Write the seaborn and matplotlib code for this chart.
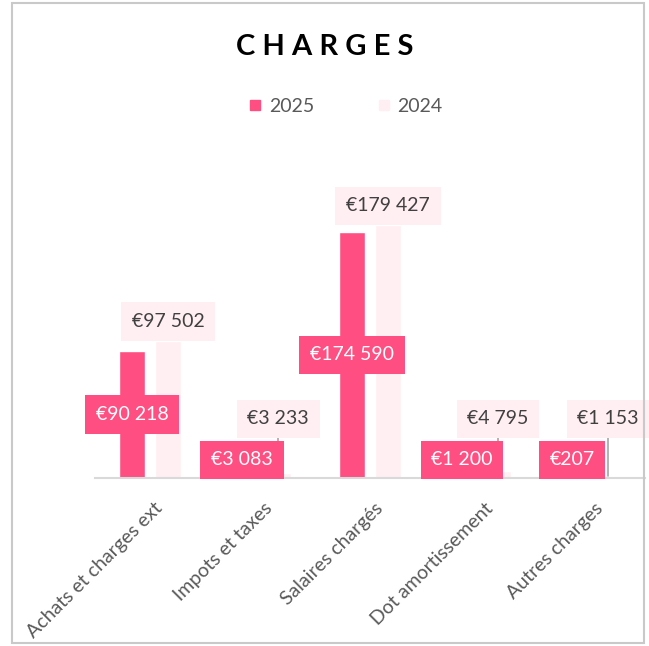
import matplotlib.pyplot as plt
import pandas as pd
import seaborn as sns
from matplotlib.lines import Line2D
from matplotlib.patches import Rectangle
from matplotlib.transforms import ScaledTranslation

# Chart data
CATEGORIES = ['Achats et charges ext', 'Impots et taxes', 'Salaires chargés',
              'Dot amortissement', 'Autres charges']
YEARS = ['2025', '2024']
VALUES_2025 = [90218, 3083, 174590, 1200, 207]
VALUES_2024 = [97502, 3233, 179427, 4795, 1153]

# Style parameters
COLORS = {'2025': '#FF4F82', '2024': '#FFEEF2'}
LABEL_TEXT = {'2025': 'white', '2024': '#404040'}
TICK_GREY = '#595959'
Y_MAX = 200000
FLOOR_2025 = 12800   # minimum centre for labels inside the bars
FLOOR_2024 = 28400   # minimum base for labels above the bars
LABEL_SIZE = 14
BOX_PAD = 0.55


def euro(v: int) -> str:
    """Formats a value like the Excel data labels (€90 218)."""
    return '€' + f'{v:,}'.replace(',', ' ')


def main() -> None:
    sns.set_style('white')
    plt.rcParams['font.family'] = ['Lato', 'DejaVu Sans']

    df = pd.DataFrame({
        'categorie': CATEGORIES * 2,
        'annee': [YEARS[0]] * len(CATEGORIES) + [YEARS[1]] * len(CATEGORIES),
        'montant': VALUES_2025 + VALUES_2024,
    })

    fig = plt.figure(figsize=(6.49, 6.46), dpi=100)
    ax = fig.add_axes([95 / 649, 1 - 478 / 646, 550 / 649, 282 / 646])
    sns.barplot(data=df, x='categorie', y='montant', hue='annee', hue_order=YEARS,
                palette=COLORS, saturation=1, width=0.655, gap=0.3, errorbar=None,
                legend=False, ax=ax)
    ax.set_ylim(0, Y_MAX)
    ax.set_xlim(-0.5, len(CATEGORIES) - 0.5)

    # data labels
    for year, container, values in zip(YEARS, ax.containers, [VALUES_2025, VALUES_2024]):
        for bar, v in zip(container, values):
            x = bar.get_x() + bar.get_width() / 2
            bbox = dict(boxstyle=f'square,pad={BOX_PAD}', fc=COLORS[year], ec='none')
            if year == '2025':
                ax.text(x, max(v / 2, FLOOR_2025), euro(v), ha='center', va='center',
                        color=LABEL_TEXT[year], fontsize=LABEL_SIZE, bbox=bbox, zorder=5)
            else:
                base = max(v, FLOOR_2024)
                if v < FLOOR_2024:
                    ax.plot([x, x], [v, base], color='#A6A6A6', lw=1.2, zorder=4)
                ax.annotate(euro(v), xy=(x, base), xytext=(0, BOX_PAD * LABEL_SIZE),
                            textcoords='offset points', ha='center', va='bottom',
                            color=LABEL_TEXT[year], fontsize=LABEL_SIZE, bbox=bbox,
                            zorder=6, annotation_clip=False)

    # axes styling
    for side in ['left', 'right', 'top']:
        ax.spines[side].set_visible(False)
    ax.spines['bottom'].set_color('#D9D9D9')
    ax.spines['bottom'].set_linewidth(1.5)
    ax.set_yticks([])
    ax.set_xlabel('')
    ax.set_ylabel('')
    ax.tick_params(axis='x', length=0, pad=20, colors=TICK_GREY, labelsize=14)
    shift = ScaledTranslation(0.1, 0, fig.dpi_scale_trans)
    for lbl in ax.get_xticklabels():
        lbl.set_rotation(45)
        lbl.set_ha('right')
        lbl.set_va('center')
        lbl.set_rotation_mode('anchor')
        lbl.set_transform(lbl.get_transform() + shift)

    # title and legend
    fig.text(325 / 649, 1 - 47 / 646, ' '.join('CHARGES'), ha='center', va='center',
             fontsize=21, fontweight='bold', color='black')
    handles = [Line2D([], [], marker='s', ls='none', markersize=7, color=COLORS[y]) for y in YEARS]
    fig.legend(handles, YEARS, loc='center', bbox_to_anchor=(345 / 649, 1 - 106 / 646),
               ncol=2, frameon=False, fontsize=14, labelcolor=TICK_GREY,
               handletextpad=0.3, columnspacing=3.2, handlelength=0.8)

    # chart frame
    fig.patches.append(Rectangle((12 / 649, 3 / 646), 632 / 649, 640 / 646,
                                 transform=fig.transFigure, fill=False,
                                 ec='#C9C9C9', lw=1.5, zorder=0))

    fig.savefig('out.png', dpi=100)


if __name__ == '__main__':
    main()
